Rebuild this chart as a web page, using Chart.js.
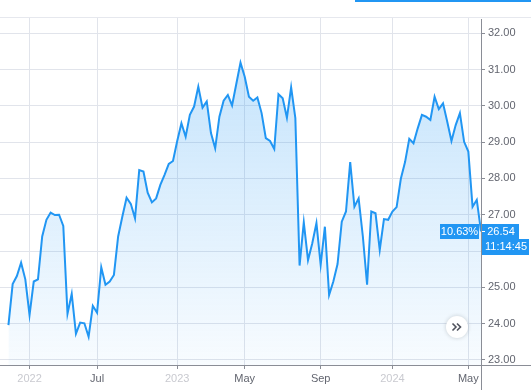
<!DOCTYPE html>
<html>
<head>
<meta charset="utf-8">
<script src="https://cdn.jsdelivr.net/npm/chart.js@4.4.1/dist/chart.umd.min.js"></script>
<style>
  html,body{margin:0;padding:0;background:#fff;}
  #wrap{width:531px;height:390px;position:relative;}
</style>
</head>
<body>
<div id="wrap"><canvas id="c" width="531" height="390"></canvas></div>
<script>
// price series (one point per session)
const prices = [
  23.96,25.09,25.31,25.68,25.22,24.24,25.16,25.22,26.40,26.86,
  27.06,26.99,27.00,26.69,24.27,24.82,23.72,24.03,24.01,23.64,
  24.49,24.30,25.55,25.07,25.16,25.34,26.40,26.95,27.47,27.30,
  26.90,28.23,28.19,27.61,27.34,27.45,27.82,28.10,28.40,28.48,
  29.03,29.52,29.15,29.75,29.98,30.53,29.95,30.12,29.25,28.83,
  29.70,30.14,30.30,30.01,30.60,31.19,30.80,30.25,30.14,30.23,
  29.80,29.11,29.03,28.81,30.32,30.21,29.67,30.51,29.66,25.60,
  26.79,25.75,26.21,26.77,25.62,26.67,24.79,25.16,25.64,26.81,
  27.09,28.45,27.22,27.45,26.40,25.07,27.09,27.04,26.03,26.88,
  26.86,27.09,27.21,27.99,28.45,29.09,28.97,29.38,29.75,29.70,
  29.61,30.25,29.91,30.07,29.56,29.03,29.47,29.80,29.01,28.74,
  27.22,27.41,26.54
];

// x axis: index of the session where each label sits, and its text
const tickIndex = [5, 21, 40, 56, 74, 91, 109];
const tickText  = ["2022", "Jul", "2023", "May", "Sep", "2024", "May"];
const blurred   = [true, false, true, false, false, true, false];

// y axis ticks
const yTicks = [23, 24, 25, 26, 27, 28, 29, 30, 31, 32];

// last price tag
const lastChange = "10.63%";
const lastPrice  = "26.54";
const lastTime   = "11:14:45";

const BLUE = "#2196f3";
const FONT = "'Liberation Sans', Arial, sans-serif";

const points = prices.map((p,i)=>({x:i, y:p}));

// frame lines, price tag and the scroll button
const extras = {
  id:"extras",
  afterDraw(chart){
    const ctx = chart.ctx;
    const a = chart.chartArea;
    ctx.save();
    // top separator + blue strip
    ctx.fillStyle = "#e6e8ee";
    ctx.fillRect(0, 17, 531, 1);
    ctx.fillStyle = BLUE;
    ctx.fillRect(355, 0, 176, 2);
    // axis lines
    ctx.fillStyle = "#8a8d96";
    ctx.fillRect(0, a.bottom, 531, 1);
    ctx.fillRect(a.right, 19, 1, 390-19);

    // price tag
    const y = Math.round(chart.scales.y.getPixelForValue(prices[prices.length-1]));
    ctx.font = "11px " + FONT;
    ctx.textBaseline = "middle";
    ctx.fillStyle = BLUE;
    ctx.fillRect(440, y-7, 39, 15);
    ctx.fillRect(a.right+1, y-7, 37, 15);
    ctx.fillRect(a.right+1, y+8, 47, 16);
    ctx.fillStyle = "#fff";
    ctx.textAlign = "center";
    ctx.fillText(lastChange, 459.5, y+1);
    ctx.fillText(lastPrice, a.right+20, y+1);
    ctx.fillText(lastTime, a.right+25, y+16);
    ctx.fillRect(a.right+1, y, 3, 1);

    // scroll-to-end button
    ctx.shadowColor = "rgba(0,0,0,0.18)";
    ctx.shadowBlur = 4;
    ctx.beginPath();
    ctx.arc(457, 327, 11, 0, Math.PI*2);
    ctx.fillStyle = "#fff";
    ctx.fill();
    ctx.shadowBlur = 0;
    ctx.strokeStyle = "#50535e";
    ctx.lineWidth = 1.6;
    ctx.beginPath();
    ctx.moveTo(452.5,323.5); ctx.lineTo(456,327); ctx.lineTo(452.5,330.5);
    ctx.moveTo(457,323.5); ctx.lineTo(460.5,327); ctx.lineTo(457,330.5);
    ctx.stroke();
    ctx.restore();
  }
};

new Chart(document.getElementById("c"),{
  type:"line",
  data:{
    datasets:[{
      data: points,
      borderColor: BLUE,
      borderWidth: 2,
      pointRadius: 0,
      tension: 0,
      fill: "start",
      backgroundColor: (ctx)=>{
        const a = ctx.chart.chartArea;
        if(!a) return "rgba(33,150,243,0.15)";
        const g = ctx.chart.ctx.createLinearGradient(0, 60, 0, a.bottom);
        g.addColorStop(0, "rgba(33,150,243,0.26)");
        g.addColorStop(1, "rgba(33,150,243,0.03)");
        return g;
      }
    }]
  },
  plugins:[extras],
  options:{
    responsive:false,
    animation:false,
    layout:{padding:{top:18, left:0, right:0, bottom:0}},
    plugins:{legend:{display:false}, tooltip:{enabled:false}},
    scales:{
      x:{
        type:"linear",
        min:-2, max:112,
        border:{display:false},
        grid:{color:"#e1e4eb", tickColor:"#8a8d96", tickLength:4},
        afterBuildTicks: s=>{ s.ticks = tickIndex.map(v=>({value:v})); },
        afterFit: s=>{ s.height = 25; },
        ticks:{
          autoSkip:false, maxRotation:0, padding:3,
          font:{size:11, family:FONT},
          color: c=> blurred[c.index] ? "#c9cad0" : "#62656f",
          callback:(v,i)=>tickText[i]
        }
      },
      y:{
        position:"right",
        min:22.86, max:32.42,
        border:{display:false},
        grid:{color:"#e1e4eb", tickColor:"#8a8d96", tickLength:4},
        afterBuildTicks: s=>{ s.ticks = yTicks.map(v=>({value:v})); },
        afterFit: s=>{ s.width = 50; },
        ticks:{
          padding:3,
          font:{size:11, family:FONT},
          color:"#62656f",
          callback:v=> v===26 ? "" : v.toFixed(2)
        }
      }
    }
  }
});
</script>
</body>
</html>
